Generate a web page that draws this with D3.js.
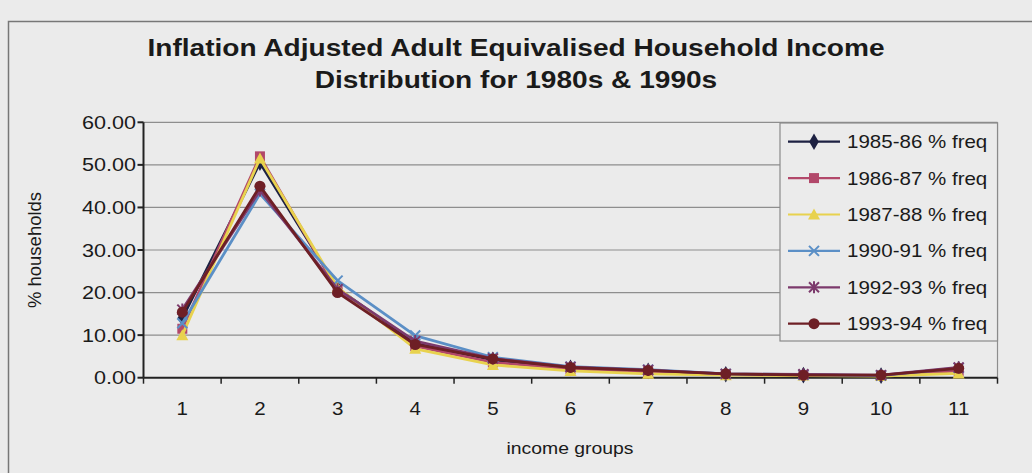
<!DOCTYPE html>
<html>
<head>
<meta charset="utf-8">
<script src="https://cdn.jsdelivr.net/npm/d3@7"></script>
<style>
  html, body { margin: 0; padding: 0; background: #ebebeb; }
  svg { display: block; }
  text { font-family: "Liberation Sans", Arial, sans-serif; fill: #1a1a1a; }
</style>
</head>
<body>
<svg id="chart" width="1032" height="473"></svg>
<script>
// Income groups along the x axis
const groups = [1, 2, 3, 4, 5, 6, 7, 8, 9, 10, 11];

// Percentage of households in each income group, one array per survey year
const freq8586 = [14.0, 50.5, 21.0, 8.0, 4.2, 2.3, 1.6, 0.8, 0.6, 0.5, 2.0];
const freq8687 = [11.5, 52.0, 20.5, 7.4, 3.6, 2.0, 1.3, 0.7, 0.6, 0.5, 1.6];
const freq8788 = [10.0, 51.5, 21.2, 6.8, 3.0, 1.6, 0.9, 0.6, 0.5, 0.4, 1.0];
const freq9091 = [12.8, 43.2, 22.8, 9.9, 4.8, 2.6, 1.9, 0.9, 0.7, 0.5, 2.3];
const freq9293 = [16.0, 44.0, 20.8, 8.6, 4.5, 2.5, 1.8, 0.9, 0.8, 0.6, 2.4];
const freq9394 = [15.4, 45.0, 20.0, 7.8, 4.4, 2.4, 1.7, 0.9, 0.6, 0.6, 2.2];

const seriesNames = ["1985-86 % freq", "1986-87 % freq", "1987-88 % freq",
                     "1990-91 % freq", "1992-93 % freq", "1993-94 % freq"];
const yTicks = [0, 10, 20, 30, 40, 50, 60];

const titleLines = ["Inflation Adjusted Adult Equivalised Household Income",
                    "Distribution for 1980s & 1990s"];

const series = [
  { name: seriesNames[0], values: freq8586, color: "#1d2142", marker: "diamond" },
  { name: seriesNames[1], values: freq8687, color: "#b2486a", marker: "square" },
  { name: seriesNames[2], values: freq8788, color: "#e8d24e", marker: "triangle" },
  { name: seriesNames[3], values: freq9091, color: "#5b8fc6", marker: "x" },
  { name: seriesNames[4], values: freq9293, color: "#7c3a6c", marker: "star" },
  { name: seriesNames[5], values: freq9394, color: "#6e1f25", marker: "circle" }
];

const svg = d3.select("#chart");
const SX = 1.14; // horizontal stretch applied to the lettering

// Text helper: glyphs drawn slightly wider than tall
function label(parent, px, py, str, anchor, size, weight, sx) {
  const g = parent.append("g").attr("transform", `translate(${px},${py}) scale(${sx || SX},1)`);
  return g.append("text")
    .attr("text-anchor", anchor || "start")
    .style("font-size", (size || 18) + "px")
    .style("font-weight", weight || "normal")
    .text(str);
}

// Chart frame
svg.append("rect").attr("x", 0).attr("y", 0).attr("width", 1032).attr("height", 473).attr("fill", "#ebebeb");
svg.append("path")
  .attr("d", "M8.5,473 L8.5,21.5 L1032,21.5")
  .attr("fill", "none").attr("stroke", "#777").attr("stroke-width", 1.5);

// Plot area
const plotLeft = 143.5, plotRight = 997.5, plotTop = 122.3, plotBottom = 377.7;

const x = d3.scalePoint().domain(groups).range([plotLeft, plotRight]).padding(0.5);
const xBand = d3.scaleBand().domain(groups).range([plotLeft, plotRight]);
const y = d3.scaleLinear().domain([0, 60]).range([plotBottom, plotTop]);

// Horizontal gridlines
svg.append("g").selectAll("line").data(yTicks.filter(d => d > 0)).join("line")
  .attr("x1", plotLeft).attr("x2", plotRight)
  .attr("y1", d => y(d)).attr("y2", d => y(d))
  .attr("stroke", "#8e8e8e").attr("stroke-width", 1.2);

// Right border of the plot area
svg.append("line").attr("x1", plotRight).attr("x2", plotRight).attr("y1", plotTop).attr("y2", plotBottom)
  .attr("stroke", "#8e8e8e").attr("stroke-width", 1.2);

// Y axis
svg.append("line").attr("x1", plotLeft).attr("x2", plotLeft).attr("y1", plotTop).attr("y2", plotBottom)
  .attr("stroke", "#222").attr("stroke-width", 2);
svg.append("g").selectAll("line").data(yTicks).join("line")
  .attr("x1", plotLeft - 6).attr("x2", plotLeft)
  .attr("y1", d => y(d)).attr("y2", d => y(d))
  .attr("stroke", "#222").attr("stroke-width", 2);
yTicks.forEach(d => {
  label(svg, 136, y(d) + 6.5, d3.format(".2f")(d), "end", 18, "normal", 1.2);
});

// X axis with ticks on the category boundaries
svg.append("line").attr("x1", plotLeft).attr("x2", plotRight).attr("y1", plotBottom).attr("y2", plotBottom)
  .attr("stroke", "#222").attr("stroke-width", 2);
const edges = groups.map(g => xBand(g)).concat([xBand(groups[groups.length - 1]) + xBand.bandwidth()]);
svg.append("g").selectAll("line").data(edges).join("line")
  .attr("x1", d => d).attr("x2", d => d)
  .attr("y1", plotBottom).attr("y2", plotBottom + 6)
  .attr("stroke", "#222").attr("stroke-width", 1.5);
groups.forEach(g => {
  label(svg, x(g), 415, String(g), "middle", 18);
});

// Axis titles
label(svg, 570, 454, "income groups", "middle", 17);
svg.append("text")
  .attr("transform", "translate(41,250) rotate(-90)")
  .attr("text-anchor", "middle")
  .style("font-size", "18.5px")
  .text("% households");

// Chart title
label(svg, 516, 56, titleLines[0], "middle", 24, "bold", 1.17);
label(svg, 516, 88, titleLines[1], "middle", 24, "bold", 1.17);

// Marker drawing
function drawMarker(sel, kind, color) {
  if (kind === "diamond") {
    sel.append("path").attr("d", d3.symbol(d3.symbolDiamond, 80)()).attr("fill", color);
  } else if (kind === "square") {
    sel.append("rect").attr("x", -5).attr("y", -5).attr("width", 10).attr("height", 10).attr("fill", color);
  } else if (kind === "triangle") {
    sel.append("path").attr("d", "M0,-6 L6,5 L-6,5 Z").attr("fill", color);
  } else if (kind === "x") {
    sel.append("path").attr("d", "M-5,-5 L5,5 M-5,5 L5,-5")
      .attr("stroke", color).attr("stroke-width", 2).attr("fill", "none");
  } else if (kind === "star") {
    sel.append("path").attr("d", "M-5,-5 L5,5 M-5,5 L5,-5 M0,-6 L0,6")
      .attr("stroke", color).attr("stroke-width", 2).attr("fill", "none");
  } else if (kind === "circle") {
    sel.append("circle").attr("r", 5.5).attr("fill", color);
  }
}

// Series lines and markers
const line = d3.line().x((d, i) => x(groups[i])).y(d => y(d));
series.forEach(s => {
  const g = svg.append("g");
  g.append("path").datum(s.values)
    .attr("d", line)
    .attr("fill", "none").attr("stroke", s.color).attr("stroke-width", 2.8)
    .attr("stroke-linejoin", "round");
  s.values.forEach((v, i) => {
    const m = g.append("g").attr("transform", `translate(${x(groups[i])},${y(v)})`);
    drawMarker(m, s.marker, s.color);
  });
});

// Legend
const lg = svg.append("g");
lg.append("rect").attr("x", 780).attr("y", 123).attr("width", 217.5).attr("height", 218)
  .attr("fill", "#ebebeb").attr("stroke", "#8a8a8a").attr("stroke-width", 1.2);
series.forEach((s, i) => {
  const cy = 141.7 + i * 36.4;
  lg.append("line").attr("x1", 788).attr("x2", 840).attr("y1", cy).attr("y2", cy)
    .attr("stroke", s.color).attr("stroke-width", 2.2);
  const m = lg.append("g").attr("transform", `translate(814,${cy})`);
  drawMarker(m, s.marker, s.color);
  label(lg, 847, cy + 6.5, s.name, "start", 18);
});
</script>
</body>
</html>
